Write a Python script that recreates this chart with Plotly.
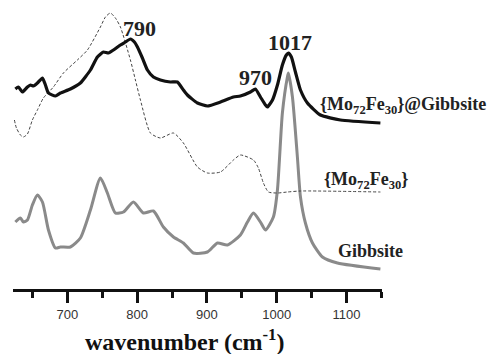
import plotly.graph_objects as go

# {Mo72Fe30}@Gibbsite (black, thick)
wn_comp = [625.4, 629.7, 635.5, 642.7, 647.0, 651.3, 657.0, 664.2, 668.5, 672.8, 682.8, 690.0,
           704.3, 718.6, 733.0, 743.0, 751.6, 758.8, 766.0, 776.0, 783.2, 790.3, 796.1, 800.4,
           807.5, 814.7, 823.3, 833.3, 847.7, 857.7, 866.3, 872.0, 886.4, 900.7, 919.4, 938.0,
           948.0, 962.4, 969.5, 976.7, 983.9, 986.7, 994.0, 1001.1, 1008.2, 1013.9, 1016.8,
           1021.1, 1026.9, 1034.1, 1044.1, 1062.7, 1091.4, 1148.7]
ab_comp = [200, 202, 197, 202, 204, 203, 206, 211, 204, 196, 193, 196,
           200, 206, 219, 232, 237, 236, 239, 244, 247, 250, 247, 242,
           231, 219, 212, 209, 207, 207, 199, 194, 186, 183, 187, 192,
           193, 197, 200, 192, 184, 182, 189, 204, 224, 234, 236,
           232, 217, 199, 186, 174, 169, 166]

# {Mo72Fe30} (thin, dashed)
wn_mo = [624.0, 626.9, 632.6, 636.9, 642.7, 649.8, 657.0, 665.6, 679.9, 694.3, 714.3, 728.7,
         747.3, 754.5, 761.6, 768.8, 776.0, 790.3, 797.5, 804.7, 819.0, 833.3, 852.0, 866.3,
         886.4, 900.7, 919.4, 938.0, 948.0, 966.7, 973.8, 981.0, 988.2, 1001.1, 1015.4,
         1034.1, 1148.7]
ab_mo = [169, 161, 154, 152, 155, 169, 179, 191, 202, 216, 229, 239,
         262, 272, 276, 271, 262, 229, 209, 189, 156, 151, 156, 146,
         122, 116, 117, 129, 134, 129, 121, 106, 97, 96, 97,
         98, 97]

# Gibbsite (gray, thick)
wn_gib = [625.4, 632.6, 636.9, 642.7, 649.8, 657.0, 664.2, 672.8, 682.8, 690.0, 704.3, 718.6,
          733.0, 747.3, 757.3, 768.8, 780.3, 794.6, 809.0, 823.3, 837.6, 852.0, 866.3, 880.6,
          900.7, 915.1, 929.4, 948.0, 958.1, 966.7, 976.7, 983.9, 995.3, 1001.1, 1008.2,
          1015.4, 1016.8, 1022.6, 1029.7, 1034.1, 1041.2, 1051.3, 1065.6, 1087.1, 1148.7]
ab_gib = [67, 71, 67, 69, 84, 94, 87, 59, 41, 42, 42, 51,
          79, 111, 96, 76, 77, 87, 76, 78, 62, 52, 46, 36,
          37, 46, 44, 54, 67, 76, 67, 59, 72, 99, 176,
          212, 216, 192, 132, 92, 66, 46, 32, 26, 20]

major_ticks = [700, 800, 900, 1000, 1100]
minor_ticks = [650, 750, 850, 950, 1050, 1150]

peak_labels = ["790", "970", "1017"]
peak_x = [803, 969.5, 1019.7]
peak_y = [261, 212, 247]

serif = "Liberation Serif, Times New Roman, serif"

fig = go.Figure()
fig.add_trace(go.Scatter(x=wn_gib, y=ab_gib, mode="lines",
                         line=dict(color="#8a8a8a", width=3, shape="spline", smoothing=0.6)))
fig.add_trace(go.Scatter(x=wn_mo, y=ab_mo, mode="lines",
                         line=dict(color="#444444", width=1, dash="3px,2px", shape="spline", smoothing=0.6)))
fig.add_trace(go.Scatter(x=wn_comp, y=ab_comp, mode="lines",
                         line=dict(color="#111111", width=3.2, shape="spline", smoothing=0.5)))

for t, x, y in zip(peak_labels, peak_x, peak_y):
    fig.add_annotation(x=x, y=y, text=t, showarrow=False, xanchor="center", yanchor="middle",
                       font=dict(family=serif, size=22, color="#222", weight="bold"))

series_labels = ["{Mo<sub>72</sub>Fe<sub>30</sub>}@Gibbsite", "{Mo<sub>72</sub>Fe<sub>30</sub>}", "Gibbsite"]
series_x = [1059.9, 1065.6, 1085.7]
series_y = [184, 109, 38]
for t, x, y in zip(series_labels, series_x, series_y):
    fig.add_annotation(x=x, y=y, text=t, showarrow=False, xanchor="left", yanchor="middle",
                       font=dict(family=serif, size=18, color="#222", weight="bold"))

fig.add_annotation(x=(184.5 - 13) / 369, y=(289 - 340) / 289, xref="paper", yref="paper",
                   text="wavenumber (cm<sup>-1</sup>)", showarrow=False,
                   xanchor="center", yanchor="middle",
                   font=dict(family=serif, size=24, color="#111", weight="bold"))

fig.update_layout(
    width=490, height=354,
    margin=dict(l=13, r=108, t=0, b=65),
    paper_bgcolor="white", plot_bgcolor="white",
    showlegend=False,
    xaxis=dict(range=[622, 1151], tickmode="array", tickvals=major_ticks,
               ticks="outside", ticklen=11, tickwidth=3, tickcolor="#111",
               showline=True, linewidth=3, linecolor="#111", showgrid=False, zeroline=False,
               tickfont=dict(family="Liberation Sans, Arial, sans-serif", size=13, color="#333"),
               minor=dict(tickmode="array", tickvals=minor_ticks, ticks="outside",
                          ticklen=6, tickwidth=3, tickcolor="#111", showgrid=False)),
    yaxis=dict(range=[0, 289], visible=False, showgrid=False, zeroline=False),
)

fig.write_html("out.html", config={"displayModeBar": False},
               post_script="document.body.style.margin='0px';")
